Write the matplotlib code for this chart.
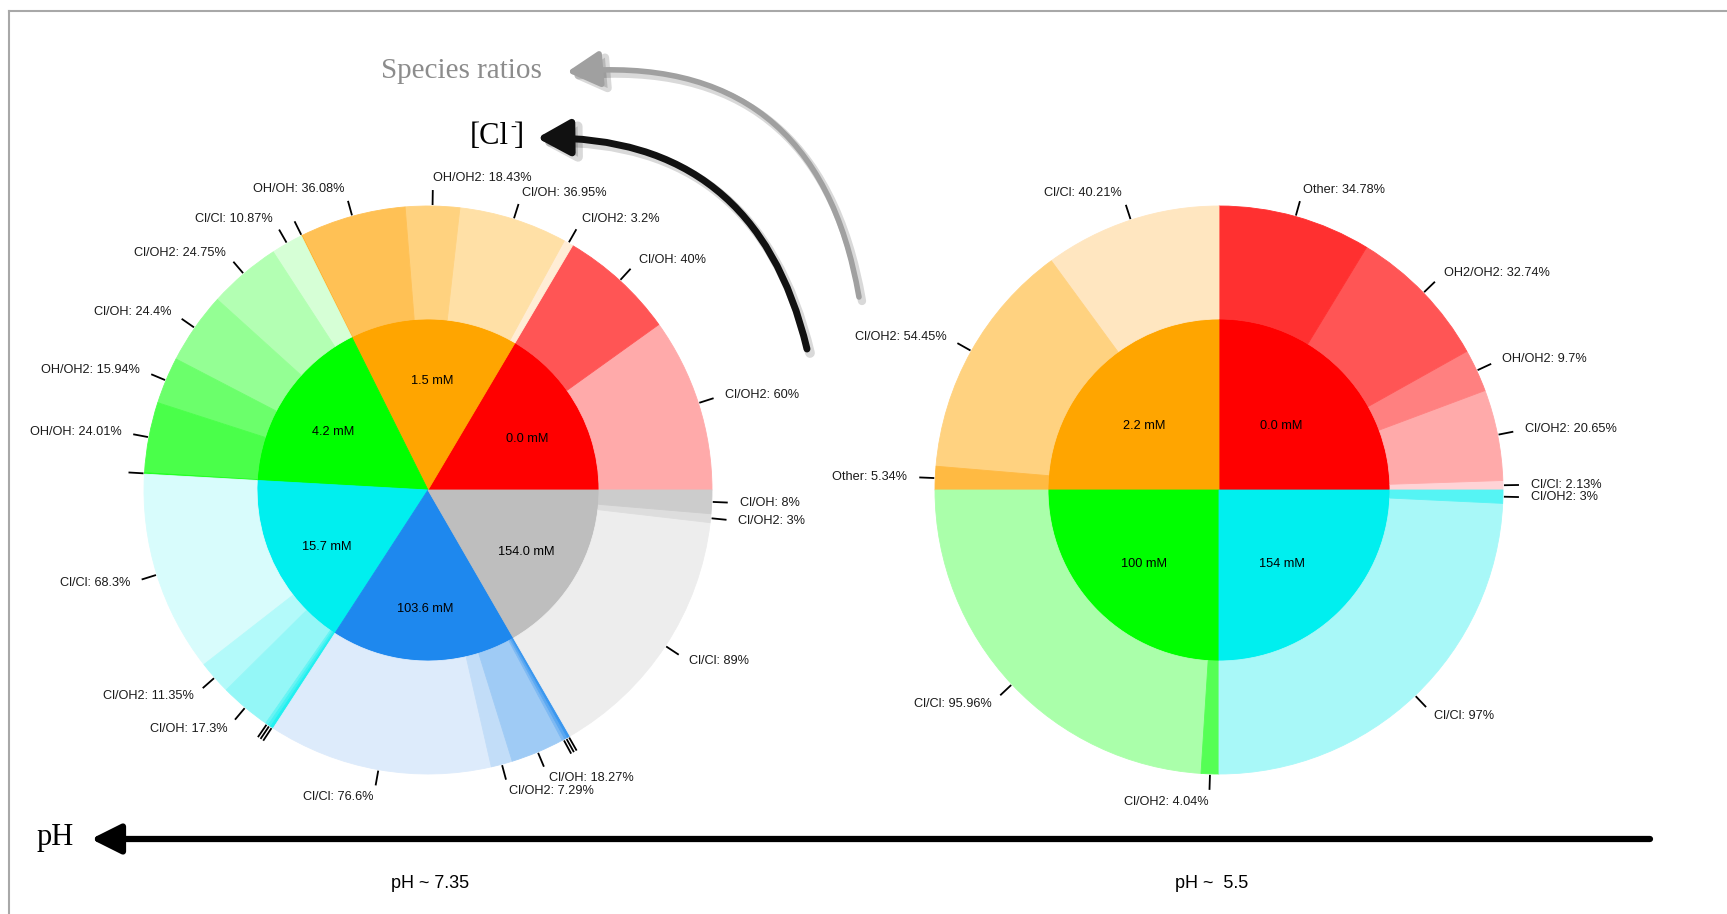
import matplotlib
matplotlib.use("Agg")
import matplotlib.pyplot as plt
from matplotlib.patches import FancyArrowPatch
import math

plt.rcParams['font.family'] = ['Liberation Sans', 'DejaVu Sans']

W, H = 1727, 914
SERIF = ['Liberation Serif', 'DejaVu Serif']

# ---- left donut (pH ~ 7.35) ----
left_inner_labels = ["0.0 mM", "1.5 mM", "4.2 mM", "15.7 mM", "103.6 mM", "154.0 mM"]
left_inner_span = [59.4, 57.1, 60.3, 60.2, 63.0, 60.0]   # degrees, as drawn
left_inner_colors = ['#FF0000', '#FFA500', '#00FF00', '#00EFEF', '#1E88EE', '#BEBEBE']
left_outer_names = [
    ["Cl/OH2", "Cl/OH"],
    ["Cl/OH2", "Cl/OH", "OH/OH2", "OH/OH", ""],
    ["Cl/Cl", "Cl/OH2", "Cl/OH", "OH/OH2", "OH/OH", ""],
    ["Cl/Cl", "Cl/OH2", "Cl/OH", "", "", ""],
    ["Cl/Cl", "Cl/OH2", "Cl/OH", "", "", ""],
    ["Cl/Cl", "Cl/OH2", "Cl/OH"],
]
left_outer_pct = [
    [60, 40],
    [3.2, 36.95, 18.43, 36.08, 0.3],
    [10.87, 24.75, 24.4, 15.94, 24.01, 0.5],
    [68.3, 11.35, 17.3, 1.0, 1.0, 1.05],
    [76.6, 7.29, 18.27, 1.0, 1.0, 1.0],
    [89, 3, 8],
]
left_outer_colors = [
    ['#FFAAAA', '#FF5555'],
    ['#FFEDD5', '#FFE0A6', '#FFD27F', '#FFC155', '#FFB22A'],
    ['#D6FFD6', '#B3FFB3', '#94FF94', '#6BFF6B', '#4AFF4A', '#22FF22'],
    ['#D8FCFC', '#B3FAFA', '#94F7F7', '#66F4F4', '#44F2F2', '#22F0F0'],
    ['#DDEBFB', '#C2DDF8', '#9FCBF5', '#7DB9F3', '#5BA8F1', '#3A97EF'],
    ['#EDEDED', '#DDDDDD', '#CCCCCC'],
]

# ---- right donut (pH ~ 5.5) ----
right_inner_labels = ["0.0 mM", "2.2 mM", "100 mM", "154 mM"]
right_inner_span = [90, 90, 90, 90]
right_inner_colors = ['#FF0000', '#FFA500', '#00FF00', '#00EFEF']
right_outer_names = [
    ["Cl/Cl", "Cl/OH2", "OH/OH2", "OH2/OH2", "Other"],
    ["Cl/Cl", "Cl/OH2", "Other"],
    ["Cl/Cl", "Cl/OH2"],
    ["Cl/Cl", "Cl/OH2"],
]
right_outer_pct = [
    [2.13, 20.65, 9.7, 32.74, 34.78],
    [40.21, 54.45, 5.34],
    [95.96, 4.04],
    [97, 3],
]
right_outer_colors = [
    ['#FFD3D6', '#FFAAAA', '#FF8080', '#FF5555', '#FF3030'],
    ['#FFE6C0', '#FFD280', '#FFBA42'],
    ['#AAFFAA', '#55FF55'],
    ['#A8F8F8', '#55F4F4'],
]

ph_labels = ["pH ~ 7.35", "pH ~  5.5"]

R_IN = 171
R_OUT = 284


def draw_donut(ax, cx, cy, spans, in_labels, in_colors, names, pcts, colors, lab_r, lab_dx):
    inner, _ = ax.pie(spans, radius=R_IN, center=(cx, cy), colors=in_colors, startangle=0,
                      wedgeprops=dict(linewidth=0.6))
    # outer ring: each group shares the angle of its parent
    vals, cols, labs = [], [], []
    for i in range(len(spans)):
        tot = sum(pcts[i])
        for j in range(len(pcts[i])):
            vals.append(spans[i] * pcts[i][j] / tot)
            cols.append(colors[i][j])
            if names[i][j]:
                labs.append("%s: %g%%" % (names[i][j], pcts[i][j]))
            else:
                labs.append("")
    wedges, _ = ax.pie(vals, radius=R_OUT, center=(cx, cy), colors=cols, startangle=0,
                       wedgeprops=dict(width=R_OUT - R_IN, linewidth=0.6))
    for w in list(inner) + list(wedges):
        w.set_edgecolor(w.get_facecolor())
    for w, lab in zip(wedges, labs):
        a = math.radians((w.theta1 + w.theta2) / 2)
        ca, sa = math.cos(a), math.sin(a)
        ax.plot([cx + (R_OUT + 1) * ca, cx + (R_OUT + 16) * ca],
                [cy + (R_OUT + 1) * sa, cy + (R_OUT + 16) * sa],
                color='black', lw=1.3, solid_capstyle='butt')
        if lab:
            ax.text(cx + (R_OUT + 28) * ca, cy + (R_OUT + 28) * sa, lab,
                    ha='left' if ca >= 0 else 'right', va='center',
                    fontsize=9.2, color='#1a1a1a')
    # inner labels
    start = 0
    for s, lab in zip(spans, in_labels):
        a = math.radians(start + s / 2)
        ax.text(cx + lab_dx + lab_r * math.cos(a), cy - 5 + lab_r * math.sin(a), lab,
                ha='center', va='center', fontsize=9.2, color='black')
        start += s


def curved_arrow(ax, tail, head, rad, color, lw, scale):
    style = "-|>,head_length=1.0,head_width=0.55"
    # soft drop shadow under the arrow
    sh = FancyArrowPatch((tail[0] + 3, tail[1] - 4), (head[0] + 3, head[1] - 4),
                         connectionstyle="arc3,rad=%g" % rad, arrowstyle=style,
                         mutation_scale=scale, color='black', alpha=0.15, lw=lw + 2,
                         shrinkA=0, shrinkB=0)
    ax.add_patch(sh)
    ar = FancyArrowPatch(tail, head, connectionstyle="arc3,rad=%g" % rad, arrowstyle=style,
                         mutation_scale=scale, color=color, lw=lw, shrinkA=0, shrinkB=0)
    ax.add_patch(ar)


fig = plt.figure(figsize=(W / 100, H / 100), dpi=100)
ax = fig.add_axes([0, 0, 1, 1])

draw_donut(ax, 428, H - 490, left_inner_span, left_inner_labels, left_inner_colors,
           left_outer_names, left_outer_pct, left_outer_colors, 114, 0)
draw_donut(ax, 1219, H - 490, right_inner_span, right_inner_labels, right_inner_colors,
           right_outer_names, right_outer_pct, right_outer_colors, 97, -6)

curved_arrow(ax, (859, H - 297), (567, H - 72), 0.46, '#A0A0A0', 4, 20)
curved_arrow(ax, (807, H - 349), (537, H - 138), 0.4, '#111111', 5, 20)

ax.text(461, H - 71, "Species ratios", family=SERIF, fontsize=21, color='#8C8C8C',
        ha='center', va='center')
ax.text(509, H - 137, "[Cl", family=SERIF, fontsize=22, color='black', ha='right', va='center')
ax.text(510, H - 127, "-", family=SERIF, fontsize=13, color='black', ha='left', va='center')
ax.text(514, H - 137, "]", family=SERIF, fontsize=22, color='black', ha='left', va='center')

# pH axis
a3 = FancyArrowPatch((1650, H - 839), (91, H - 839), arrowstyle="-|>,head_length=0.9,head_width=0.45",
                     mutation_scale=20, color='black', lw=4.5, shrinkA=0, shrinkB=0)
ax.add_patch(a3)
ax.text(55, H - 837, "pH", family=SERIF, fontsize=22, ha='center', va='center')
ax.text(430, H - 883, ph_labels[0], fontsize=13, ha='center', va='center')
ax.text(1212, H - 883, ph_labels[1], fontsize=13, ha='center', va='center')

# frame of the original figure
ax.plot([9, 9], [0, H - 11], color='#A8A8A8', lw=1.5)
ax.plot([9, W], [H - 11, H - 11], color='#A8A8A8', lw=1.5)

ax.set_xlim(0, W)
ax.set_ylim(0, H)
ax.set_aspect('auto')
ax.axis('off')

fig.savefig("out.png", dpi=100)
